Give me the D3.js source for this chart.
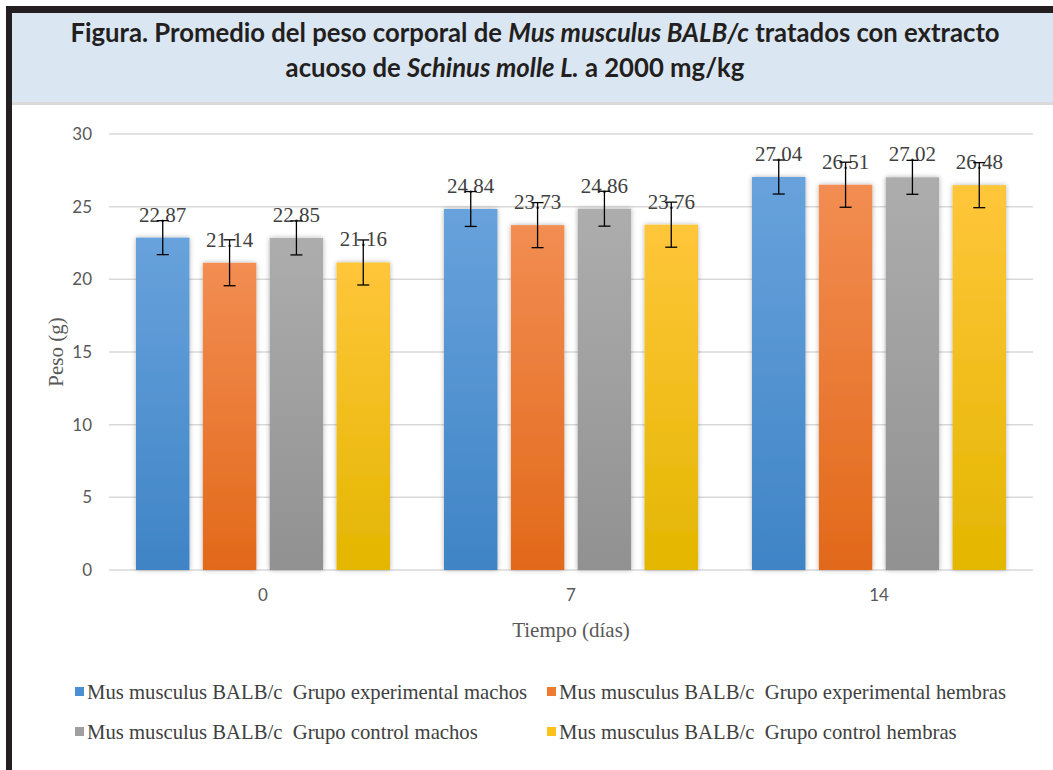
<!DOCTYPE html>
<html>
<head>
<meta charset="utf-8">
<script src="https://cdn.jsdelivr.net/npm/d3@7"></script>
<style>
  body { margin: 0; background: #fff; }
  svg { display: block; }
</style>
</head>
<body>
<div id="chart"></div>
<script>
// data
var days = ["0", "7", "14"];
var seriesNames = [
  "Mus musculus BALB/c  Grupo experimental machos",
  "Mus musculus BALB/c  Grupo experimental hembras",
  "Mus musculus BALB/c  Grupo control machos",
  "Mus musculus BALB/c  Grupo control hembras"
];
var expMachos = [22.87, 24.84, 27.04];
var expHembras = [21.14, 23.73, 26.51];
var ctrlMachos = [22.85, 24.86, 27.02];
var ctrlHembras = [21.16, 23.76, 26.48];
var errExpMachos = [1.17, 1.2, 1.17];
var errExpHembras = [1.58, 1.55, 1.55];
var errCtrlMachos = [1.17, 1.2, 1.17];
var errCtrlHembras = [1.55, 1.55, 1.55];
var yTicks = [0, 5, 10, 15, 20, 25, 30];

var values = [expMachos, expHembras, ctrlMachos, ctrlHembras];
var errors = [errExpMachos, errExpHembras, errCtrlMachos, errCtrlHembras];
var colorsTop = ["#68a2dc", "#f28d52", "#adadad", "#ffc63a"];
var colorsBot = ["#3f84c6", "#e2691a", "#919191", "#e3b600"];
var legendColors = ["#4a8fd1", "#ee7a30", "#a0a0a0", "#fcc21c"];

var W = 1053, H = 770;
var svg = d3.select("#chart").append("svg")
  .attr("width", W)
  .attr("height", H);

var defs = svg.append("defs");
values.forEach(function (v, i) {
  var g = defs.append("linearGradient")
    .attr("id", "grad" + i)
    .attr("x1", 0).attr("y1", 0).attr("x2", 0).attr("y2", 1);
  g.append("stop").attr("offset", "0%").attr("stop-color", colorsTop[i]);
  g.append("stop").attr("offset", "100%").attr("stop-color", colorsBot[i]);
});
var shadow = defs.append("filter").attr("id", "shadow")
  .attr("x", "-20%").attr("y", "-5%").attr("width", "140%").attr("height", "110%");
shadow.append("feDropShadow")
  .attr("dx", 0).attr("dy", 0)
  .attr("stdDeviation", 2.5)
  .attr("flood-color", "#000")
  .attr("flood-opacity", 0.3);

// frame + title box
svg.append("rect").attr("x", 6).attr("y", 6).attr("width", W - 6).attr("height", 7).attr("fill", "#231f20");
svg.append("rect").attr("x", 6).attr("y", 6).attr("width", 6).attr("height", H - 6).attr("fill", "#231f20");
svg.append("rect").attr("x", 12).attr("y", 13).attr("width", W - 12).attr("height", 89).attr("fill", "#dbe6f3");
svg.append("rect").attr("x", 12).attr("y", 102).attr("width", W - 12).attr("height", 3).attr("fill", "#d9d9d9");

var title = svg.append("g")
  .attr("font-family", "Lato, 'Open Sans', sans-serif")
  .attr("font-weight", "bold")
  .attr("font-size", 25.7)
  .attr("fill", "#231f20")
  .attr("text-anchor", "middle");
var t1 = title.append("text").attr("x", 535).attr("y", 42);
t1.append("tspan").text("Figura. Promedio del peso corporal de ");
t1.append("tspan").attr("font-style", "italic").text("Mus musculus BALB/c");
t1.append("tspan").text(" tratados con extracto");
var t2 = title.append("text").attr("x", 515).attr("y", 77);
t2.append("tspan").text("acuoso de ");
t2.append("tspan").attr("font-style", "italic").text("Schinus molle L.");
t2.append("tspan").text(" a 2000 mg/kg");

// scales
var x0 = d3.scaleBand().domain(days).range([109, 1033]);
var x1 = d3.scaleBand().domain(d3.range(4))
  .range([27, x0.bandwidth() - 27]).paddingInner(0.2);
var y = d3.scaleLinear().domain([0, 30]).range([570, 134]);

// gridlines
svg.append("g").selectAll("line").data(yTicks).enter().append("line")
  .attr("x1", 109).attr("x2", 1033)
  .attr("y1", function (d) { return y(d); })
  .attr("y2", function (d) { return y(d); })
  .attr("stroke", "#d9d9d9")
  .attr("stroke-width", 1.5);

// y axis labels
var yAxis = svg.append("g")
  .attr("transform", "translate(99,0)")
  .call(d3.axisLeft(y).tickValues(yTicks).tickSize(0).tickPadding(7));
yAxis.select(".domain").remove();
yAxis.selectAll("text")
  .attr("font-family", "Lato, sans-serif")
  .attr("font-size", 17)
  .attr("fill", "#595959");

// x axis labels
var xAxis = svg.append("g")
  .attr("transform", "translate(0,583)")
  .call(d3.axisBottom(x0).tickSize(0).tickPadding(6));
xAxis.select(".domain").remove();
xAxis.selectAll("text")
  .attr("font-family", "Lato, sans-serif")
  .attr("font-size", 17)
  .attr("fill", "#595959");

// bars
var groups = svg.append("g").selectAll("g").data(days).enter().append("g")
  .attr("transform", function (d) { return "translate(" + x0(d) + ",0)"; });

groups.each(function (day, di) {
  var g = d3.select(this);
  values.forEach(function (v, si) {
    var val = v[di], err = errors[si][di];
    var bx = x1(si), bw = x1.bandwidth(), cx = bx + bw / 2;
    g.append("rect")
      .attr("x", bx)
      .attr("y", y(val))
      .attr("width", bw)
      .attr("height", y(0) - y(val))
      .attr("fill", "url(#grad" + si + ")")
      .attr("filter", "url(#shadow)");
    g.append("text")
      .attr("x", cx)
      .attr("y", y(val) - 16)
      .attr("text-anchor", "middle")
      .attr("font-family", "'Liberation Serif', serif")
      .attr("font-size", 21)
      .attr("fill", "#404040")
      .text(val.toFixed(2));
    var eb = g.append("g").attr("stroke", "#000").attr("stroke-width", 1.3);
    eb.append("line").attr("x1", cx).attr("x2", cx)
      .attr("y1", y(val + err)).attr("y2", y(val - err));
    eb.append("line").attr("x1", cx - 6).attr("x2", cx + 6)
      .attr("y1", y(val + err)).attr("y2", y(val + err));
    eb.append("line").attr("x1", cx - 6).attr("x2", cx + 6)
      .attr("y1", y(val - err)).attr("y2", y(val - err));
  });
});

// axis titles
svg.append("text")
  .attr("x", 571).attr("y", 637)
  .attr("text-anchor", "middle")
  .attr("font-family", "'Liberation Serif', serif")
  .attr("font-size", 21)
  .attr("fill", "#595959")
  .text("Tiempo (días)");
svg.append("text")
  .attr("transform", "translate(63,352) rotate(-90)")
  .attr("text-anchor", "middle")
  .attr("font-family", "'Liberation Serif', serif")
  .attr("font-size", 21)
  .attr("fill", "#595959")
  .text("Peso (g)");

// legend
var legendPos = [[75, 692], [547, 692], [75, 732], [547, 732]];
var legend = svg.append("g").selectAll("g").data(seriesNames).enter().append("g")
  .attr("transform", function (d, i) { return "translate(" + legendPos[i][0] + "," + legendPos[i][1] + ")"; });
legend.append("rect")
  .attr("x", 0).attr("y", -5).attr("width", 9).attr("height", 9)
  .attr("fill", function (d, i) { return legendColors[i]; });
legend.append("text")
  .attr("x", 12).attr("y", 7)
  .attr("font-family", "'Liberation Serif', serif")
  .attr("font-size", 20.7)
  .attr("fill", "#404040")
  .attr("xml:space", "preserve")
  .style("white-space", "pre")
  .text(function (d) { return d; });
</script>
</body>
</html>
